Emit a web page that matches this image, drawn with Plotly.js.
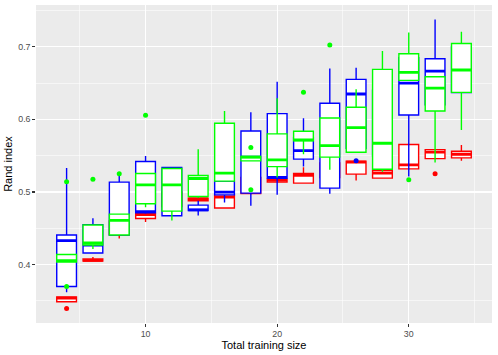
<!DOCTYPE html>
<html>
<head>
<meta charset="utf-8">
<script src="https://cdn.plot.ly/plotly-3.0.1.min.js"></script>
<style>
  html, body { margin: 0; padding: 0; background: #fff; }
  #chart { width: 498px; height: 355px; }
</style>
</head>
<body>
<div id="chart"></div>
<script>
// training sizes (x positions)
var sizes = [4, 6, 8, 10, 12, 14, 16, 18, 20, 22, 24, 26, 28, 30, 32, 34];

// red group
var red_q1  = [0.349, 0.405, 0.441, 0.4636, 0.480, 0.488, 0.478, 0.498, 0.5136, 0.5122, 0.520, 0.5246, 0.5191, 0.5319, 0.546, 0.547];
var red_med = [0.354, 0.406, 0.452, 0.469, 0.490, 0.4905, 0.493, 0.505, 0.516, 0.523, 0.530, 0.541, 0.526, 0.5374, 0.5548, 0.552];
var red_q3  = [0.3556, 0.408, 0.460, 0.4705, 0.500, 0.4916, 0.496, 0.520, 0.5177, 0.5254, 0.540, 0.5424, 0.5296, 0.5653, 0.5584, 0.5562];
var red_lo  = [0.349, 0.405, 0.436, 0.4587, 0.470, 0.488, 0.478, 0.4965, 0.5136, 0.5122, 0.510, 0.5158, 0.5191, 0.5319, 0.546, 0.543];
var red_hi  = [0.3556, 0.4105, 0.465, 0.4705, 0.520, 0.4916, 0.496, 0.530, 0.5177, 0.534, 0.550, 0.5424, 0.5296, 0.5653, 0.5584, 0.5648];
var red_out_x = [4, 32];
var red_out_y = [0.3396, 0.525];

// blue group
var blue_q1  = [0.370, 0.416, 0.4408, 0.4715, 0.4673, 0.4746, 0.496, 0.4985, 0.519, 0.5452, 0.5053, 0.560, 0.550, 0.606, 0.620, 0.637];
var blue_med = [0.433, 0.427, 0.460, 0.473, 0.510, 0.4755, 0.4998, 0.548, 0.520, 0.557, 0.560, 0.6349, 0.600, 0.650, 0.6665, 0.670];
var blue_q3  = [0.4408, 0.455, 0.5136, 0.5419, 0.5337, 0.482, 0.515, 0.584, 0.6079, 0.575, 0.6221, 0.655, 0.640, 0.685, 0.6834, 0.700];
var blue_lo  = [0.362, 0.416, 0.4408, 0.470, 0.4673, 0.4678, 0.4856, 0.481, 0.4962, 0.535, 0.4975, 0.556, 0.540, 0.5213, 0.615, 0.637];
var blue_hi  = [0.533, 0.464, 0.522, 0.5497, 0.5346, 0.488, 0.520, 0.6097, 0.6518, 0.6015, 0.670, 0.671, 0.660, 0.690, 0.7375, 0.700];
var blue_out_x = [26];
var blue_out_y = [0.543];

// green group
var green_q1  = [0.4037, 0.427, 0.4408, 0.4838, 0.4737, 0.4938, 0.515, 0.5429, 0.535, 0.5704, 0.548, 0.5548, 0.5314, 0.6537, 0.6115, 0.6372];
var green_med = [0.4055, 0.4298, 0.4609, 0.5099, 0.5099, 0.5186, 0.526, 0.548, 0.5442, 0.5717, 0.5639, 0.5886, 0.5671, 0.6647, 0.6431, 0.6679];
var green_q3  = [0.414, 0.4545, 0.4696, 0.5254, 0.5323, 0.5227, 0.5946, 0.5488, 0.580, 0.5836, 0.6019, 0.6166, 0.6688, 0.6903, 0.6587, 0.7045];
var green_lo  = [0.4037, 0.4215, 0.4408, 0.479, 0.4609, 0.4916, 0.515, 0.5429, 0.520, 0.552, 0.5305, 0.5548, 0.528, 0.6537, 0.5405, 0.5854];
var green_hi  = [0.414, 0.4545, 0.4696, 0.5254, 0.5325, 0.5589, 0.6115, 0.5488, 0.629, 0.5836, 0.6019, 0.6413, 0.694, 0.7196, 0.6587, 0.7205];
var green_out_x = [4, 4, 6, 8, 10, 18, 18, 22, 24, 30];
var green_out_y = [0.514, 0.3698, 0.5177, 0.525, 0.6056, 0.5611, 0.503, 0.6372, 0.7022, 0.5168];

function boxTrace(q1, med, q3, lo, hi, color) {
  return {
    type: "box",
    x: sizes,
    q1: q1,
    median: med,
    q3: q3,
    lowerfence: lo,
    upperfence: hi,
    width: 1.5,
    whiskerwidth: 0,
    boxpoints: false,
    fillcolor: "#FFFFFF",
    line: { color: color, width: 1.4 },
    hoverinfo: "none",
    showlegend: false,
  };
}

// thicker median line, drawn right after its own box
function medianTrace(med, color) {
  return {
    type: "box",
    x: sizes,
    q1: med,
    median: med,
    q3: med,
    lowerfence: med,
    upperfence: med,
    width: 1.5,
    whiskerwidth: 0,
    boxpoints: false,
    fillcolor: "rgba(0,0,0,0)",
    line: { color: color, width: 2.8 },
    hoverinfo: "none",
    showlegend: false,
  };
}

function outlierTrace(xs, ys, color) {
  return {
    type: "scatter",
    mode: "markers",
    x: xs,
    y: ys,
    marker: { color: color, size: 5 },
    hoverinfo: "none",
    showlegend: false,
  };
}

var data = [
  boxTrace(red_q1, red_med, red_q3, red_lo, red_hi, "#FF0000"),
  medianTrace(red_med, "#FF0000"),
  boxTrace(blue_q1, blue_med, blue_q3, blue_lo, blue_hi, "#0000FF"),
  medianTrace(blue_med, "#0000FF"),
  boxTrace(green_q1, green_med, green_q3, green_lo, green_hi, "#00FF00"),
  medianTrace(green_med, "#00FF00"),
  outlierTrace(red_out_x, red_out_y, "#FF0000"),
  outlierTrace(blue_out_x, blue_out_y, "#0000FF"),
  outlierTrace(green_out_x, green_out_y, "#00FF00"),
];

var layout = {
  width: 498,
  height: 355,
  margin: { l: 36, r: 5.5, t: 5, b: 32 },
  paper_bgcolor: "#FFFFFF",
  plot_bgcolor: "#EBEBEB",
  boxmode: "overlay",
  font: { family: "Liberation Sans, Arial, sans-serif", color: "#000000" },
  xaxis: {
    range: [1.675, 36.325],
    tickvals: [10, 20, 30],
    ticktext: ["10", "20", "30"],
    ticks: "outside",
    ticklen: 2.75,
    tickwidth: 1.07,
    tickcolor: "#333333",
    tickfont: { size: 8.8, color: "#4D4D4D" },
    showgrid: true,
    gridcolor: "#FFFFFF",
    gridwidth: 1.07,
    minor: { tickvals: [5, 15, 25, 35], showgrid: true, gridcolor: "#FFFFFF", gridwidth: 0.53, ticks: "" },
    zeroline: false,
    showline: false,
    title: { text: "Total training size", font: { size: 11, color: "#000000" }, standoff: 1 },
    automargin: false,
  },
  yaxis: {
    range: [0.3197, 0.7574],
    tickvals: [0.4, 0.5, 0.6, 0.7],
    ticktext: ["0.4", "0.5", "0.6", "0.7"],
    ticks: "outside",
    ticklen: 2.75,
    tickwidth: 1.07,
    tickcolor: "#333333",
    tickfont: { size: 8.8, color: "#4D4D4D" },
    showgrid: true,
    gridcolor: "#FFFFFF",
    gridwidth: 1.07,
    minor: { tickvals: [0.35, 0.45, 0.55, 0.65, 0.75], showgrid: true, gridcolor: "#FFFFFF", gridwidth: 0.53, ticks: "" },
    zeroline: false,
    showline: false,
    title: { text: "Rand index", font: { size: 11, color: "#000000" }, standoff: 3 },
    automargin: false,
  },
};

var config = {
  responsive: false,
  displayModeBar: false,
  staticPlot: true,
};

Plotly.newPlot("chart", data, layout, config);
</script>
</body>
</html>
